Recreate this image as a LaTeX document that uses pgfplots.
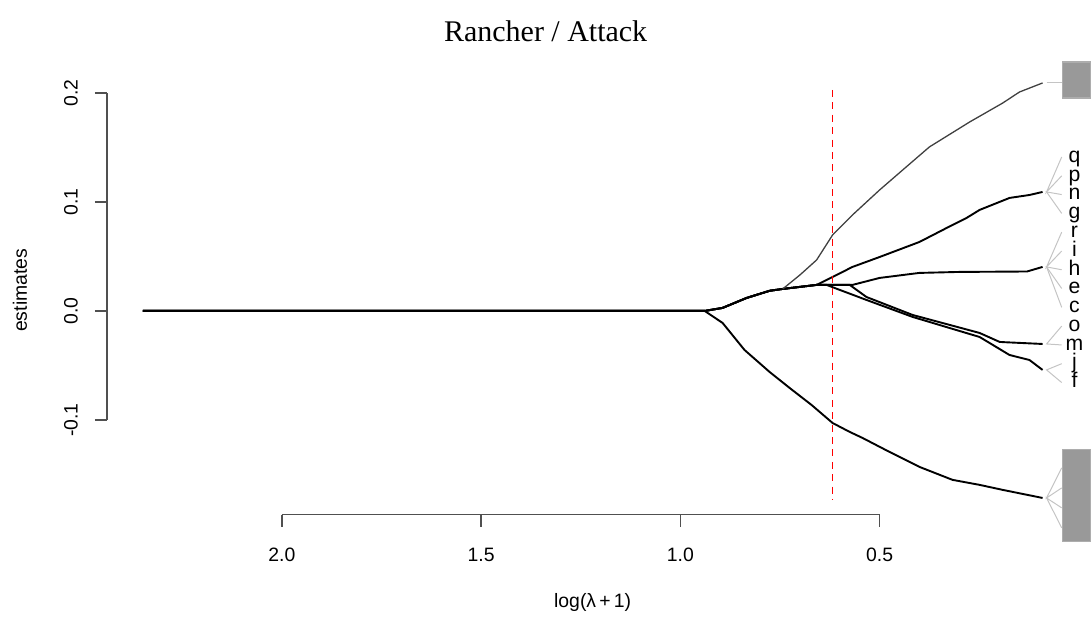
\documentclass[border=0pt]{standalone}
\usepackage{pgfplots}
\pgfplotsset{compat=1.18}
\usepackage{fontspec}
\setmainfont{Liberation Sans}
\newfontfamily\titlefont{Liberation Serif}
\definecolor{axgray}{HTML}{505050}
\definecolor{fangray}{HTML}{C4C4C4}
\definecolor{boxgray}{HTML}{999999}

\begin{document}
\begin{tikzpicture}
% page frame: 1091 x 617 px at 0.5pt per px
\path (-53.5pt,-51pt) rectangle (492pt,257.5pt);
\begin{axis}[
  scale only axis,
  width=486pt, height=224.5pt,
  x dir=reverse,
  xmin=0.001, xmax=2.439,
  ymin=-0.187, ymax=0.2248,
  axis x line*=bottom, axis y line*=left,
  axis line style={draw=none},
  clip=false,
  tick align=outside,
  major tick length=6pt,
  tick style={axgray, line width=0.75pt},
  xtick={2.0,1.5,1.0,0.5},
  xticklabels={2.0,1.5,1.0,0.5},
  ytick={-0.1,0,0.1,0.2},
  yticklabels={-0.1,0.0,0.1,0.2},
  tick label style={font=\fontsize{9.7}{11}\selectfont},
  xticklabel shift=7pt,
  yticklabel style={rotate=90, anchor=south},
  yticklabel shift=5pt,
  xlabel={log(λ\,+\,1)},
  ylabel={estimates},
  label style={font=\fontsize{9.7}{11}\selectfont},
  xlabel style={at={(axis description cs:0.5,-0.196)}, anchor=center},
  ylabel style={at={(axis description cs:-0.0895,0.5)}, anchor=center},
]
% axis lines over the tick range only
\draw[axgray, line width=0.75pt] (axis cs:2.0,-0.187) -- (axis cs:0.5,-0.187);
\draw[axgray, line width=0.75pt] (axis cs:2.439,-0.1) -- (axis cs:2.439,0.2);

% coefficient paths
\addplot[black, line width=0.95pt] coordinates {
  (2.349,0) (0.939,0) (0.894,-0.011) (0.839,-0.0358) (0.776,-0.056)
  (0.726,-0.0706) (0.671,-0.0862) (0.618,-0.1028) (0.575,-0.111)
  (0.543,-0.1165) (0.475,-0.1294) (0.400,-0.1431) (0.317,-0.155)
  (0.249,-0.1596) (0.191,-0.1642) (0.091,-0.1716)};
\addplot[black, line width=0.95pt] coordinates {
  (2.349,0) (0.939,0) (0.894,0.0028) (0.834,0.0119) (0.776,0.0185)
  (0.743,0.0202) (0.658,0.0239) (0.568,0.0239) (0.500,0.0303)
  (0.400,0.0349) (0.300,0.0358) (0.130,0.0362) (0.091,0.0404)};
\addplot[black, line width=0.95pt] coordinates {
  (2.349,0) (0.939,0) (0.894,0.0028) (0.834,0.0119) (0.776,0.0185)
  (0.743,0.0202) (0.658,0.0239) (0.575,0.0239) (0.533,0.0128)
  (0.417,-0.0037) (0.249,-0.0202) (0.199,-0.0284) (0.191,-0.0286)
  (0.091,-0.0303)};
\addplot[black, line width=0.95pt] coordinates {
  (2.349,0) (0.939,0) (0.894,0.0028) (0.834,0.0119) (0.776,0.0185)
  (0.743,0.0202) (0.658,0.0239) (0.633,0.0239) (0.600,0.0193)
  (0.533,0.0101) (0.417,-0.0055) (0.249,-0.0239) (0.174,-0.0404)
  (0.124,-0.045) (0.091,-0.0541)};
\addplot[black, line width=0.95pt] coordinates {
  (2.349,0) (0.939,0) (0.894,0.0028) (0.834,0.0119) (0.776,0.0185)
  (0.743,0.0202) (0.658,0.0239) (0.618,0.0312) (0.568,0.0404)
  (0.500,0.0495) (0.400,0.0633) (0.332,0.0761) (0.282,0.0853)
  (0.249,0.0927) (0.174,0.1037) (0.124,0.1064) (0.091,0.1092)};
\addplot[black!75, line width=0.65pt] coordinates {
  (0.743,0.0202) (0.700,0.033) (0.658,0.0468) (0.618,0.0697)
  (0.568,0.0881) (0.500,0.111) (0.440,0.130) (0.375,0.1505)
  (0.274,0.1734) (0.191,0.1908) (0.149,0.2009) (0.091,0.2092)};

% selected lambda
\addplot[red, line width=0.6pt, dash pattern=on 3.5pt off 2.7pt] coordinates {
  (0.618,0.2028) (0.618,-0.1734)};

% label fans
\begin{scope}[fangray, line width=0.5pt]
\draw (axis cs:0.081,0.2092) -- (axis cs:0.043,0.2092);
\draw (axis cs:0.043,0.1413) -- (axis cs:0.081,0.1092) -- (axis cs:0.043,0.1240);
\draw (axis cs:0.043,0.1068) -- (axis cs:0.081,0.1092) -- (axis cs:0.043,0.0895);
\draw (axis cs:0.043,0.0723) -- (axis cs:0.081,0.0404) -- (axis cs:0.043,0.0550);
\draw (axis cs:0.043,0.0378) -- (axis cs:0.081,0.0404) -- (axis cs:0.043,0.0206);
\draw (axis cs:0.081,0.0404) -- (axis cs:0.043,0.0033);
\draw (axis cs:0.043,-0.0139) -- (axis cs:0.081,-0.0303) -- (axis cs:0.043,-0.0312);
\draw (axis cs:0.043,-0.0484) -- (axis cs:0.081,-0.0541) -- (axis cs:0.043,-0.0657);
\draw (axis cs:0.043,-0.144) -- (axis cs:0.081,-0.1716) -- (axis cs:0.043,-0.1624);
\draw (axis cs:0.043,-0.1807) -- (axis cs:0.081,-0.1716) -- (axis cs:0.043,-0.199);
\end{scope}
\fill[boxgray, draw=boxgray!80!white, line width=0.6pt]
  (axis cs:0.041,0.2284) rectangle (axis cs:-0.029,0.1954);
\fill[boxgray, draw=boxgray!80!white, line width=0.6pt]
  (axis cs:0.041,-0.1275) rectangle (axis cs:-0.029,-0.2119);
\begin{scope}[every node/.style={anchor=mid, inner sep=0pt, font=\fontsize{10.6}{12}\selectfont}]
\node at (axis cs:0.011,0.1413) {q};
\node at (axis cs:0.011,0.1240) {p};
\node at (axis cs:0.011,0.1068) {n};
\node at (axis cs:0.011,0.0895) {g};
\node at (axis cs:0.011,0.0723) {r};
\node at (axis cs:0.011,0.0550) {i};
\node at (axis cs:0.011,0.0378) {h};
\node at (axis cs:0.011,0.0206) {e};
\node at (axis cs:0.011,0.0033) {c};
\node at (axis cs:0.011,-0.0139) {o};
\node at (axis cs:0.011,-0.0312) {m};
\node at (axis cs:0.011,-0.0484) {j};
\node at (axis cs:0.011,-0.0657) {f};
\end{scope}

\node[font=\titlefont\fontsize{15}{17}\selectfont, anchor=center]
  at (axis description cs:0.4516,1.078) {Rancher / Attack};
\end{axis}
\end{tikzpicture}
\end{document}
